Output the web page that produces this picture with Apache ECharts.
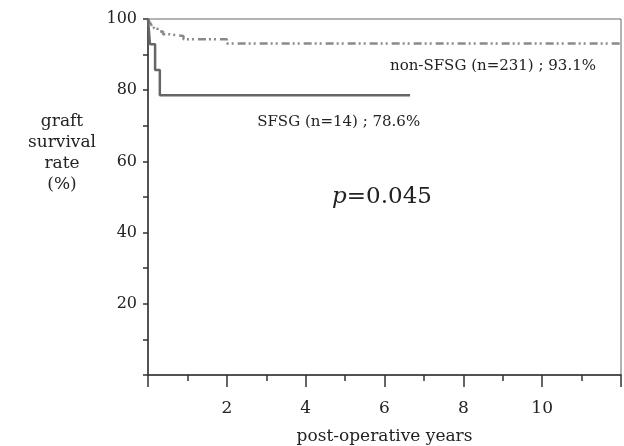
<!DOCTYPE html>
<html>
<head>
<meta charset="utf-8">
<script src="https://cdn.jsdelivr.net/npm/echarts@6/dist/echarts.min.js"></script>
<style>
html, body { margin: 0; padding: 0; background: #fff; }
#survivalChart { width: 624px; height: 446px; }
</style>
</head>
<body>
<div id="survivalChart"></div>
<script>
// 生存曲线数据 [年, %]
var sfsgData = [[0, 100], [0.05, 92.9], [0.18, 85.7], [0.3, 78.6], [6.65, 78.6]];
var nonSfsgData = [[0, 100], [0.04, 99.1], [0.09, 98.3], [0.15, 97.4], [0.24, 96.5], [0.38, 95.7], [0.55, 95.2], [0.9, 94.3], [2.0, 93.1], [12, 93.1]];
var xTicks = [2, 4, 6, 8, 10];
var yTicks = [20, 40, 60, 80, 100];
// 注释文字 [x, y, 文字]
var notes = [
    [6.14, 86.8, 'non-SFSG (n=231) ; 93.1%'],
    [2.77, 71.1, 'SFSG (n=14) ; 78.6%']
];
var pNote = [4.67, 50, '0.045'];

var serif = '"DejaVu Serif", "Liberation Serif", serif';
var survivalChart = echarts.init(document.getElementById('survivalChart'));
var survivalOption = {
    backgroundColor: '#fff',
    animation: false,
    grid: {
        left: 148,
        right: 3,
        top: 19,
        bottom: 71,
        outerBoundsMode: 'none',
        show: true,
        borderColor: '#666',
        borderWidth: 1
    },
    xAxis: {
        type: 'value',
        min: 0,
        max: 12,
        interval: 2,
        name: 'post-operative years',
        nameLocation: 'middle',
        nameGap: 53,
        nameTextStyle: { fontFamily: serif, fontSize: 17, color: '#222' },
        axisLine: { lineStyle: { color: '#333', width: 1.5 } },
        axisTick: { length: 12, lineStyle: { color: '#333', width: 1.5 } },
        minorTick: { show: true, splitNumber: 2, length: 6, lineStyle: { color: '#333', width: 1.5 } },
        splitLine: { show: false },
        axisLabel: {
            margin: 25,
            fontFamily: serif,
            fontSize: 17,
            color: '#222',
            formatter: function (v) {
                return xTicks.indexOf(v) >= 0 ? String(v) : '';
            }
        }
    },
    yAxis: {
        type: 'value',
        min: 0,
        max: 100,
        interval: 20,
        axisLine: { show: true, lineStyle: { color: '#333', width: 1.5 } },
        axisTick: { show: true, length: 5, lineStyle: { color: '#333', width: 1.5 } },
        minorTick: { show: true, splitNumber: 2, length: 5, lineStyle: { color: '#333', width: 1.5 } },
        splitLine: { show: false },
        axisLabel: {
            margin: 11,
            fontFamily: serif,
            fontSize: 16,
            color: '#222',
            formatter: function (v) {
                return yTicks.indexOf(v) >= 0 ? String(v) : '';
            }
        }
    },
    series: [{
        name: 'non-SFSG',
        type: 'line',
        step: 'end',
        showSymbol: false,
        lineStyle: { color: '#8a8a8a', width: 2.5, type: [8, 3, 2, 3, 2, 4] },
        data: nonSfsgData
    }, {
        name: 'SFSG',
        type: 'line',
        step: 'end',
        showSymbol: false,
        lineStyle: { color: '#666', width: 2.5 },
        data: sfsgData
    }]
};
survivalChart.setOption(survivalOption);

// 注释用 convertToPixel 定位
var graphics = [{
    type: 'text',
    x: 62,
    y: 153,
    style: {
        text: 'graft\nsurvival\nrate\n(%)',
        fontFamily: serif,
        fontSize: 17,
        lineHeight: 21,
        fill: '#222',
        align: 'center',
        verticalAlign: 'middle'
    }
}];
notes.forEach(function (n) {
    var p = survivalChart.convertToPixel({ gridIndex: 0 }, [n[0], n[1]]);
    graphics.push({
        type: 'text',
        x: p[0],
        y: p[1],
        style: {
            text: n[2],
            fontFamily: serif,
            fontSize: 15,
            fill: '#222',
            align: 'left',
            verticalAlign: 'middle'
        }
    });
});
var pp = survivalChart.convertToPixel({ gridIndex: 0 }, [pNote[0], pNote[1]]);
graphics.push({
    type: 'text',
    x: pp[0],
    y: pp[1],
    style: {
        rich: {
            it: { fontFamily: serif, fontStyle: 'italic', fontSize: 23, fill: '#222' },
            n: { fontFamily: serif, fontSize: 23, fill: '#222' }
        },
        text: '{it|p}{n|=' + pNote[2] + '}',
        align: 'left',
        verticalAlign: 'middle'
    }
});
survivalChart.setOption({ graphic: graphics });
</script>
</body>
</html>
